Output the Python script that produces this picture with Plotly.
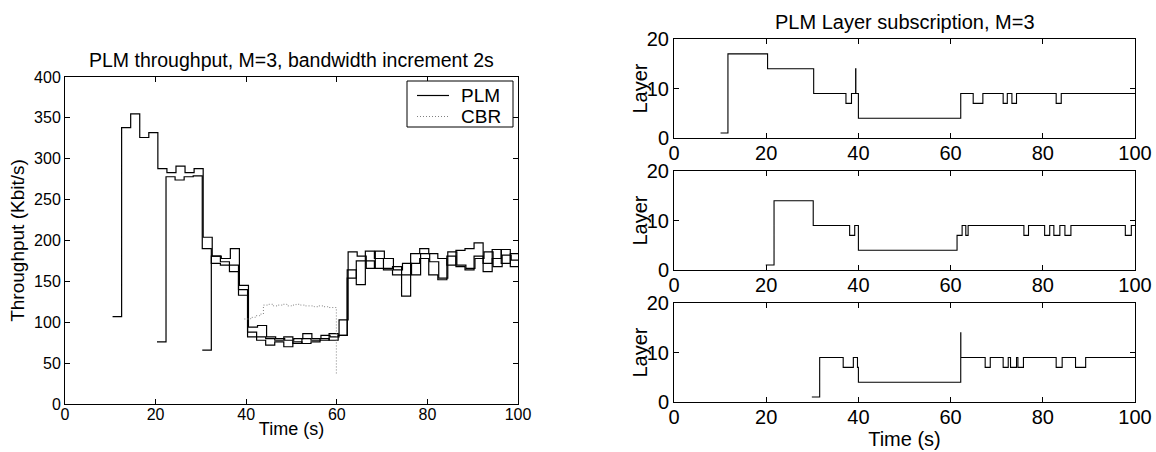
import plotly.graph_objects as go

# ---------------- Left: throughput data (2 s bins) ----------------
bin_width = 2.0
r1_start = 10.5
r1_tput = [107, 338, 355, 326, 332, 288, 283, 291, 283, 288,
           204, 181, 178, 190, 145, 94, 96, 82, 80, 78, 80, 86, 80, 84, 82, 103,
           186, 181, 166, 187, 178, 164, 172, 158, 184, 174, 154, 186, 170, 166,
           178, 186, 168, 182, 176]
r2_start = 20.3
r2_tput = [76, 278, 274, 278, 279,
           190, 172, 170, 162, 133, 88, 78, 72, 76, 70, 76, 74, 76, 78, 86, 84,
           164, 146, 187, 178, 164, 158, 132, 184, 190, 184, 178, 170, 188, 190,
           197, 172, 189, 172, 184]
r3_start = 30.3
r3_tput = [66, 181, 174, 170, 140, 82, 82, 80, 78, 82, 74, 80, 78, 80, 78, 84,
           154, 175, 175, 166, 166, 168, 158, 172, 178, 158, 152, 181, 168, 164,
           181, 162, 178, 189, 168]

cbr_time = [39.6, 41, 42, 43, 43.8, 45, 46, 47, 48, 49, 50, 51, 52, 53, 54, 55, 56, 57, 58, 59, 59.9, 59.9]
cbr_tput = [104, 106, 108, 110, 121, 122, 120, 121, 122, 120, 121, 122, 121, 120, 120, 119, 120, 119, 118, 118, 118, 37]

# ---------------- Right: layer subscription (change points) ----------------
l1_time = [10.1, 11.7, 20.3, 30.3, 37.3, 38.5, 39.4, 39.45, 40.0, 62.2, 64.9, 67.0, 71.4, 72.3, 73.3, 74.3, 82.9, 84.0, 100]
l1_layer = [1, 17, 14, 9, 7, 9, 14, 9, 4, 9, 7, 9, 7, 9, 7, 9, 7, 9, 9]
l2_time = [19.9, 21.7, 30.2, 38.1, 39.2, 40.0, 61.4, 62.5, 63.3, 63.8, 75.9, 76.9, 80.4, 81.5, 82.4, 83.7, 84.8, 86.1, 97.9, 99.2, 100]
l2_layer = [1, 14, 9, 7, 9, 4, 7, 9, 7, 9, 7, 9, 7, 9, 7, 9, 7, 9, 7, 9, 9]
l3_time = [29.9, 31.6, 36.7, 38.9, 39.8, 40.0, 62.2, 62.22, 67.5, 68.6, 71.4, 72.5, 73.0, 74.3, 74.6, 75.8, 82.9, 84.2, 87.1, 89.3, 100]
l3_layer = [1, 9, 7, 9, 7, 4, 14, 9, 7, 9, 7, 9, 7, 9, 7, 9, 7, 9, 7, 9, 9]

x_ticks = [0, 20, 40, 60, 80, 100]
tput_ticks = [0, 50, 100, 150, 200, 250, 300, 350, 400]
layer_ticks = [0, 10, 20]
legend_names = ["PLM", "CBR"]

FONT = "Liberation Sans, Arial, Helvetica, sans-serif"
W, H = 1156, 452

PLM_LINE = dict(color="black", width=1.2)
CBR_LINE = dict(color="#808080", width=1, dash="1px,2px")


def stairs(start, vals):
    xs = [start + bin_width * i for i in range(len(vals))] + [start + bin_width * len(vals)]
    ys = list(vals) + [vals[-1]]
    return xs, ys


fig = go.Figure()
for i, (s, v) in enumerate([(r1_start, r1_tput), (r2_start, r2_tput), (r3_start, r3_tput)]):
    xs, ys = stairs(s, v)
    fig.add_trace(go.Scatter(x=xs, y=ys, mode="lines", line=dict(shape="hv", **PLM_LINE),
                             name=legend_names[0], showlegend=False, xaxis="x", yaxis="y"))
fig.add_trace(go.Scatter(x=cbr_time, y=cbr_tput, mode="lines", line=dict(shape="hv", **CBR_LINE),
                         name=legend_names[1], showlegend=False, xaxis="x", yaxis="y"))

for k, (t, l) in enumerate([(l1_time, l1_layer), (l2_time, l2_layer), (l3_time, l3_layer)]):
    fig.add_trace(go.Scatter(x=t, y=l, mode="lines", line=dict(color="black", width=1.1, shape="hv"),
                             showlegend=False, xaxis=f"x{k+2}", yaxis=f"y{k+2}"))


def px_x(a, b):
    return [a / W, b / W]


def px_y(top, bottom):
    return [1 - bottom / H, 1 - top / H]


def pX(v):
    return v / W


def pY(v):
    return 1 - v / H


axis_common = dict(showline=True, linecolor="black", linewidth=1, mirror="ticks", ticks="inside",
                   ticklen=5, tickcolor="black", showgrid=False, zeroline=False, automargin=False)

left_tick = dict(family=FONT, size=16, color="black")
left_lab = dict(family=FONT, size=18, color="black")
right_font = dict(family=FONT, size=20, color="black")

layout = dict(
    width=W, height=H, margin=dict(l=0, r=0, t=0, b=0, autoexpand=False),
    paper_bgcolor="white", plot_bgcolor="white",
    font=dict(family=FONT, color="black"),
    showlegend=False,
    xaxis=dict(domain=px_x(65, 518), anchor="y", range=[0, 100], tickvals=x_ticks, ticklabelstandoff=-4,
               tickfont=left_tick, title=dict(text="Time (s)", font=left_lab, standoff=0), **axis_common),
    yaxis=dict(domain=px_y(77, 404), anchor="x", range=[0, 400], tickvals=tput_ticks,
               tickfont=left_tick, title=dict(text="Throughput (Kbit/s)", font=dict(family=FONT, size=19, color="black"),
                                              standoff=4), **axis_common),
)

right_dom = [(39, 138), (171, 270), (303, 402)]
annotations = []
for k, (top, bot) in enumerate(right_dom):
    n = k + 2
    layout[f"xaxis{n}"] = dict(domain=px_x(674, 1135), anchor=f"y{n}", range=[0, 100], tickvals=x_ticks,
                               ticklabelstandoff=-3, tickfont=right_font, **axis_common)
    layout[f"yaxis{n}"] = dict(domain=px_y(top, bot), anchor=f"x{n}", range=[0, 20], tickvals=layer_ticks,
                               tickfont=right_font, **axis_common)
    annotations.append(dict(text="Layer", x=pX(639), y=pY((top + bot) / 2), xref="paper", yref="paper",
                            showarrow=False, textangle=-90, font=right_font,
                            xanchor="center", yanchor="middle"))
layout["xaxis4"]["title"] = dict(text="Time (s)", font=right_font, standoff=0)

annotations += [
    dict(text="PLM throughput, M=3, bandwidth increment 2s", x=pX((65 + 518) / 2), y=pY(60),
         xref="paper", yref="paper", showarrow=False, font=dict(family=FONT, size=19.5, color="black"),
         xanchor="center", yanchor="middle"),
    dict(text="PLM Layer subscription, M=3", x=pX((674 + 1135) / 2), y=pY(22),
         xref="paper", yref="paper", showarrow=False, font=dict(family=FONT, size=20, color="black"),
         xanchor="center", yanchor="middle"),
]

# legend box (MATLAB style)
leg_rows = [95.5, 116.5]
shapes = [dict(type="rect", xref="paper", yref="paper", x0=pX(407), x1=pX(513), y0=pY(127), y1=pY(81),
               line=dict(color="black", width=1), fillcolor="white", layer="above")]
for name, ly, style in zip(legend_names, leg_rows, [PLM_LINE, CBR_LINE]):
    shapes.append(dict(type="line", xref="paper", yref="paper", x0=pX(417), x1=pX(449), y0=pY(ly), y1=pY(ly),
                       line=style, layer="above"))
    annotations.append(dict(text=name, x=pX(459), y=pY(ly), xref="paper", yref="paper", showarrow=False,
                            xanchor="left", yanchor="middle", font=dict(family=FONT, size=19, color="black")))
layout["shapes"] = shapes
layout["annotations"] = annotations

fig.update_layout(**layout)
fig.write_html("out.html")
